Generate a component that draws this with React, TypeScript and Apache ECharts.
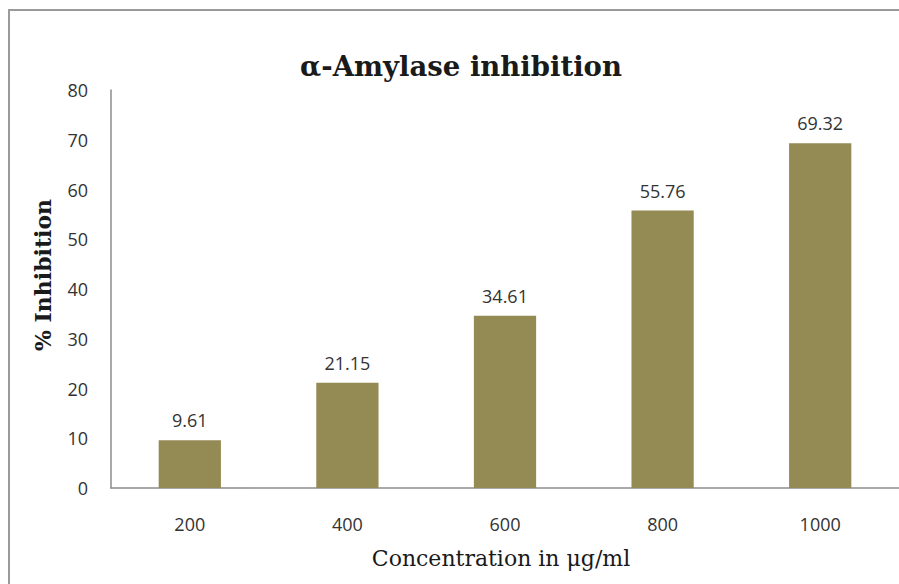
import React, { useEffect, useRef } from "react";
import * as echarts from "echarts";

const categories = ["200", "400", "600", "800", "1000"];
const inhibition = [9.61, 21.15, 34.61, 55.76, 69.32];
const yTicks = { min: 0, max: 80, interval: 10 };
const titleText = "α-Amylase inhibition";
const xName = "Concentration in μg/ml";
const yName = "% Inhibition";

export default function App() {
  const ref = useRef<HTMLDivElement>(null);
  useEffect(() => {
    if (!ref.current) return;
    const chart = echarts.init(ref.current, null, { renderer: "svg" });
    chart.setOption({
      animation: false,
      backgroundColor: "#ffffff",
      title: {
        text: titleText,
        left: 456,
        top: 47,
        textAlign: "center",
        textStyle: {
          fontFamily: "DejaVu Serif",
          fontWeight: "bold",
          fontSize: 27.5,
          color: "#1a1a1a",
        },
      },
      graphic: [
        {
          type: "line",
          shape: { x1: 9, y1: 10, x2: 9, y2: 600 },
          style: { stroke: "#9a9a9a", lineWidth: 2 },
          silent: true,
        },
        {
          type: "line",
          shape: { x1: 8, y1: 10, x2: 900, y2: 10 },
          style: { stroke: "#9a9a9a", lineWidth: 2 },
          silent: true,
        },
      ],
      grid: { left: 111, top: 90, width: 790, height: 398, containLabel: false },
      xAxis: {
        type: "category",
        data: categories,
        name: xName,
        nameLocation: "middle",
        nameGap: 59,
        nameTextStyle: { fontFamily: "DejaVu Serif", fontSize: 22, color: "#1a1a1a", padding: [0, 8, 0, 0] },
        axisLine: { lineStyle: { color: "#8c8c8c", width: 1.5 } },
        axisTick: { show: false },
        axisLabel: { margin: 27, fontFamily: "Open Sans", fontSize: 18, color: "#333333" },
      },
      yAxis: {
        type: "value",
        min: yTicks.min,
        max: yTicks.max,
        interval: yTicks.interval,
        name: yName,
        nameLocation: "middle",
        nameGap: 57,
        nameTextStyle: {
          fontFamily: "DejaVu Serif",
          fontWeight: "bold",
          fontSize: 22,
          color: "#1a1a1a",
          padding: [0, 0, 0, 28],
        },
        axisLine: { show: true, lineStyle: { color: "#8c8c8c", width: 1.5 } },
        axisTick: { show: false },
        splitLine: { show: false },
        axisLabel: { margin: 23, fontFamily: "Open Sans", fontSize: 18, color: "#333333" },
      },
      series: [
        {
          type: "bar",
          data: inhibition,
          barWidth: "39.5%",
          itemStyle: { color: "#948A54" },
          label: {
            show: true,
            position: "top",
            distance: 11,
            fontFamily: "Open Sans",
            fontSize: 18,
            color: "#333333",
          },
        },
      ],
    });
    return () => chart.dispose();
  }, []);
  return (
    <div
      ref={ref}
      style={{ position: "fixed", left: 0, top: 0, width: 899, height: 584 }}
    />
  );
}
